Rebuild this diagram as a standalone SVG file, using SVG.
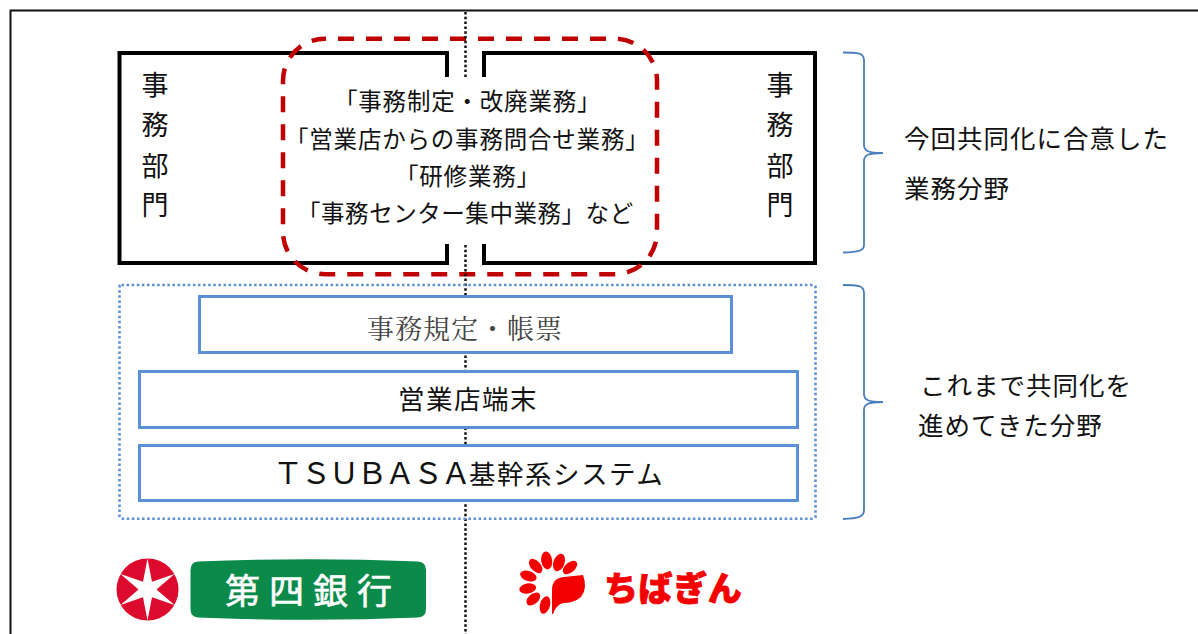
<svg xmlns="http://www.w3.org/2000/svg" width="1198" height="634" viewBox="0 0 1198 634">
<style>
text{font-family:"Noto Sans CJK JP","Noto Sans",sans-serif;fill:#111}
.dept{font-size:27px;text-anchor:middle}
.mid{font-size:23.5px;letter-spacing:.8px}
.lbl{font-size:25.5px;letter-spacing:1px}
.big{font-size:26.5px;letter-spacing:1.5px}
.box{fill:#fff;stroke:#5b8fd6;stroke-width:3}
.blk{fill:none;stroke:#000;stroke-width:4}
.brace{fill:none;stroke:#4a7ebb;stroke-width:1.8}
</style>
<rect width="1198" height="634" fill="#fff"/>
<g id="frame"><path d="M1198 10.5H10.5V634" fill="none" stroke="#111" stroke-width="2"/></g>
<g id="dept-left"><path class="blk" d="M447 77V53H119.5V263H447V244"/>
<text class="dept" x="155" y="95">事</text><text class="dept" x="155" y="135">務</text><text class="dept" x="155" y="176">部</text><text class="dept" x="155" y="215">門</text></g>
<g id="dept-right"><path class="blk" d="M484 77V53H815V263H484V244"/>
<text class="dept" x="780" y="95">事</text><text class="dept" x="780" y="135">務</text><text class="dept" x="780" y="176">部</text><text class="dept" x="780" y="215">門</text></g>
<g id="shared-scope"><rect x="283" y="38.700" width="374" height="235.500" rx="42" fill="none" stroke="#c00000" stroke-width="4.500" stroke-dasharray="16 12" stroke-dashoffset="15"/>
<text class="mid" x="334" y="110">「事務制定・改廃業務」</text>
<text class="mid" x="285" y="148">「営業店からの事務問合せ業務」</text>
<text class="mid" x="395" y="185">「研修業務」</text>
<text class="mid" x="297" y="222" style="letter-spacing:.55px">「事務センター集中業務」など</text></g>
<g id="connectors">
<path d="M465.500 12V77M465.500 245V634" stroke="#111" stroke-width="2.500" stroke-dasharray="2.500 2.300" fill="none"/>
</g>
<g id="done-area"><rect x="119.500" y="285" width="696" height="233.700" rx="2" fill="none" stroke="#5b8fd6" stroke-width="2.600" stroke-dasharray="2.500 2.600"/></g>
<g id="rules"><rect class="box" x="199.500" y="296.500" width="532" height="56"/>
<text x="367" y="339" style="font-size:27px;letter-spacing:1px;fill:#444;font-family:'Noto Serif CJK JP','Noto Sans CJK JP',serif">事務規定・帳票</text></g>
<g id="terminal"><rect class="box" x="139.500" y="371.500" width="658" height="56"/>
<text class="big" x="398" y="409">営業店端末</text></g>
<g id="core"><rect class="box" x="139.500" y="445.500" width="658" height="55"/>
<text class="big" x="273" y="484"><tspan style="font-size:30px;letter-spacing:-2px">ＴＳＵＢＡＳＡ</tspan>基幹系システム</text></g>
<g id="brace-top"><path class="brace" d="M843 52.500C858 52.500 864 53 864 60V145C864 151 868 153 883 153C868 153 864 155 864 161V245C864 251 858 252 843 252.500"/>
<text class="lbl" x="904" y="148">今回共同化に合意した</text><text class="lbl" x="904" y="198">業務分野</text></g>
<g id="brace-bottom"><path class="brace" d="M843 285C858 285 864 285.500 864 293V394C864 400 868 402 883 402C868 402 864 404 864 410V510C864 517 858 518.500 843 519"/>
<text class="lbl" x="920" y="395">これまで共同化を</text><text class="lbl" x="918" y="435">進めてきた分野</text></g>
<g id="logo-daishi">
<circle cx="147.500" cy="589.500" r="31" fill="#dc0a2d"/>
<polygon fill="#fff" points="147.500,558.500 152,581.700 174.500,574 156.500,589.500 174.500,605 152,597.300 147.500,620.500 143,597.300 120.500,605 138.500,589.500 120.500,574 143,581.700"/>
<path fill="#0b8a4a" d="M198 561.500Q310 557 418 561.500Q426 562 426 570V609Q426 617 418 617.500Q310 622 198 617.500Q190.500 617 190.500 609V570Q190.500 562 198 561.500Z"/>
<text x="225" y="604" style="font-size:35px;letter-spacing:9px;fill:#fff;stroke:#fff;stroke-width:.6">第四銀行</text>
</g>
<g id="logo-chiba" fill="#f40000">
<ellipse cx="546.700" cy="560.500" rx="5.500" ry="9" transform="rotate(-8 546.700 560.500)"/>
<ellipse cx="559" cy="562.500" rx="5.500" ry="9" transform="rotate(20 559 562.500)"/>
<ellipse cx="570" cy="567.500" rx="5" ry="8.500" transform="rotate(50 570 567.500)"/>
<ellipse cx="535.700" cy="566" rx="5" ry="8.500" transform="rotate(-42 535.700 566)"/>
<ellipse cx="528.300" cy="576" rx="5" ry="8.500" transform="rotate(-72 528.300 576)"/>
<ellipse cx="527.700" cy="588.500" rx="5" ry="8.500" transform="rotate(-100 527.700 588.500)"/>
<ellipse cx="533.300" cy="599" rx="5" ry="8" transform="rotate(-130 533.300 599)"/>
<ellipse cx="545" cy="605" rx="5" ry="9" transform="rotate(-165 545 605)"/>
<path d="M552 614V590Q552 578 564 577L583 575Q588 588 581 597Q574 603 563 603Q556 605 553 614Z"/>
<text x="604" y="601" style="font-size:34px;letter-spacing:.6px;fill:#f40000;font-weight:900;stroke:#f40000;stroke-width:.8">ちばぎん</text>
</g>
</svg>
